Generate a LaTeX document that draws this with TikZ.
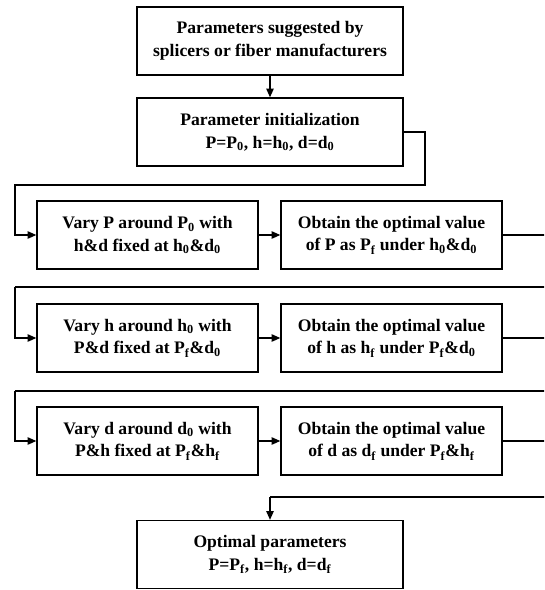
\documentclass[tikz,border=0pt]{standalone}
\usepackage{fontspec}
\setmainfont{Liberation Serif}
\usetikzlibrary{arrows.meta}
\tikzset{
    stepbox/.style={draw,line width=1pt,minimum width=221*0.75pt,minimum height=68*0.75pt,
        align=center,inner sep=0pt,font=\fontsize{13.2}{17}\selectfont\bfseries},
    widebox/.style={stepbox,minimum width=266*0.75pt},
    flow/.style={line width=1pt,-{Triangle[length=6.5pt,width=5.5pt]}},
    link/.style={line width=1pt}
}
\begin{document}
\begin{tikzpicture}[x=0.75pt,y=-0.75pt]
        \useasboundingbox (0,0) rectangle (544,590);
        \clip (0,0) rectangle (544,590);
        % Draw start and initialization
        \node[widebox] (params) at (270,41) {Parameters suggested by\\splicers or fiber manufacturers};
        \node[widebox] (init) at (270,132) {Parameter initialization\\P=P\textsubscript{0}, h=h\textsubscript{0}, d=d\textsubscript{0}};
        % Draw the three tuning rows
        \node[stepbox] (varyP) at (147.5,235) {Vary P around P\textsubscript{0} with\\h\&d fixed at h\textsubscript{0}\&d\textsubscript{0}};
        \node[stepbox] (optP) at (391.5,235) {Obtain the optimal value\\of P as P\textsubscript{f} under h\textsubscript{0}\&d\textsubscript{0}};
        \node[stepbox] (varyH) at (147.5,338) {Vary h around h\textsubscript{0} with\\P\&d fixed at P\textsubscript{f}\&d\textsubscript{0}};
        \node[stepbox] (optH) at (391.5,338) {Obtain the optimal value\\of h as h\textsubscript{f} under P\textsubscript{f}\&d\textsubscript{0}};
        \node[stepbox] (varyD) at (147.5,441) {Vary d around d\textsubscript{0} with\\P\&h fixed at P\textsubscript{f}\&h\textsubscript{f}};
        \node[stepbox] (optD) at (391.5,441) {Obtain the optimal value\\of d as d\textsubscript{f} under P\textsubscript{f}\&h\textsubscript{f}};
        % Draw result
        \node[widebox] (result) at (270,554.5) {Optimal parameters\\P=P\textsubscript{f}, h=h\textsubscript{f}, d=d\textsubscript{f}};
        % Draw connectors
        \draw[flow] (params) -- (init);
        \draw[flow] (init.east) -| (425,185) -| (15,235) -- (varyP.west);
        \draw[flow] (varyP) -- (optP);
        \draw[link] (optP.east) -- (560,235) |- (15,287);
        \draw[flow] (15,287) |- (varyH.west);
        \draw[flow] (varyH) -- (optH);
        \draw[link] (optH.east) -- (560,338) |- (15,391);
        \draw[flow] (15,391) |- (varyD.west);
        \draw[flow] (varyD) -- (optD);
        \draw[link] (optD.east) -- (560,441) |- (270,497);
        \draw[flow] (270,497) -- (result.north);
\end{tikzpicture}
\end{document}
